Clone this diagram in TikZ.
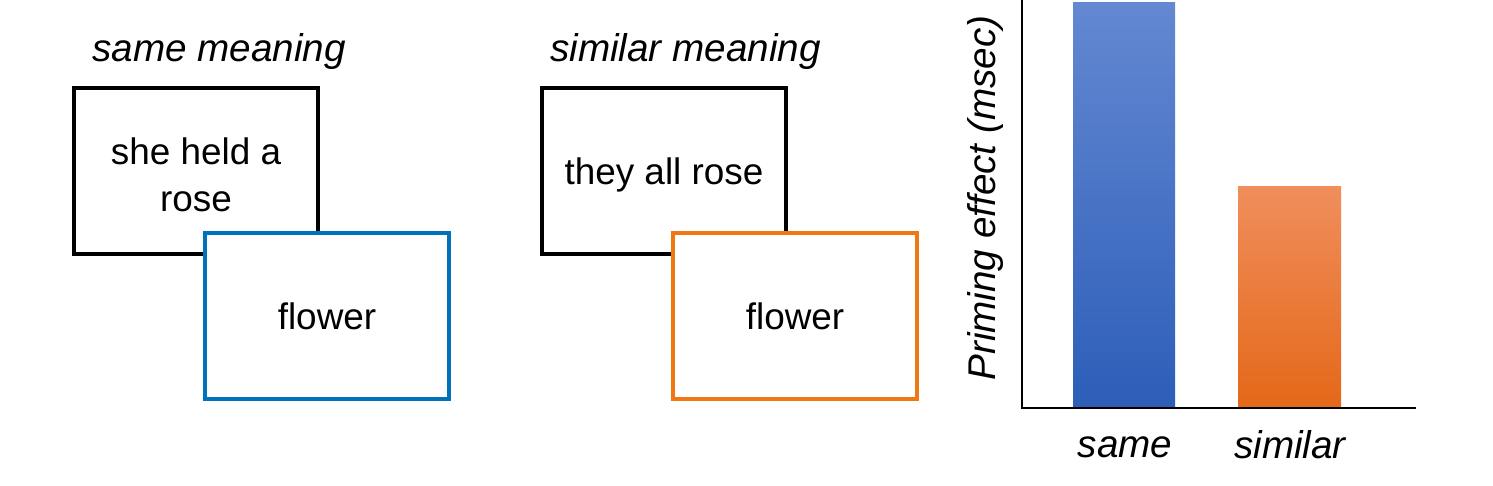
\documentclass[tikz,border=0pt]{standalone}
\usepackage{fontspec}
\setmainfont{Liberation Sans}
\begin{document}
\begin{tikzpicture}[x=0.02cm,y=-0.02cm]
%Define all colors here.
\definecolor{boxblue}{RGB}{0,114,188}
\definecolor{boxorange}{RGB}{240,120,20}
\definecolor{bartopblue}{RGB}{100,136,210}
\definecolor{barbotblue}{RGB}{44,94,184}
\definecolor{bartoporange}{RGB}{240,142,92}
\definecolor{barbotorange}{RGB}{228,104,24}
\tikzset{
  card/.style={draw, line width=1.8pt, fill=white, minimum width=4.88cm, minimum height=3.32cm, font=\fontsize{21}{27}\selectfont, align=center},
  title/.style={font=\fontsize{22}{26}\selectfont\itshape, anchor=west},
  barlabel/.style={font=\fontsize{22}{26}\selectfont\itshape}
}
\useasboundingbox (0,0) rectangle (1493,486);

\node(T1) at (86,52) [title] {same meaning};
\node(P1) at (196,171) [card, draw=black] {};
\node at (196,175) [font=\fontsize{21}{27}\selectfont, align=center] {she held a\\rose};
\node(F1) at (327,316) [card, draw=boxblue] {flower};

\node(T2) at (544,52) [title] {similar meaning};
\node(P2) at (664,171) [card, draw=black] {};
\node at (664,175) [font=\fontsize{21}{27}\selectfont] {they all rose};
\node(F2) at (795,316) [card, draw=boxorange] {flower};

\coordinate(O) at (1022,408);
\coordinate(Ytop) at (1022,0);
\coordinate(Xend) at (1416,408);
\shade[top color=bartopblue, bottom color=barbotblue] (1073,3) rectangle (1175,408);
\shade[top color=bartoporange, bottom color=barbotorange] (1238,187) rectangle (1341,408);
\draw[line width=1pt] (Ytop) -- (O) -- (Xend);
\node(L1) at (1125,447) [barlabel] {same};
\node(L2) at (1290,445) [barlabel] {similar};
\node(YL) at (985,198) [barlabel, rotate=90] {Priming effect (msec)};
\end{tikzpicture}
\end{document}
